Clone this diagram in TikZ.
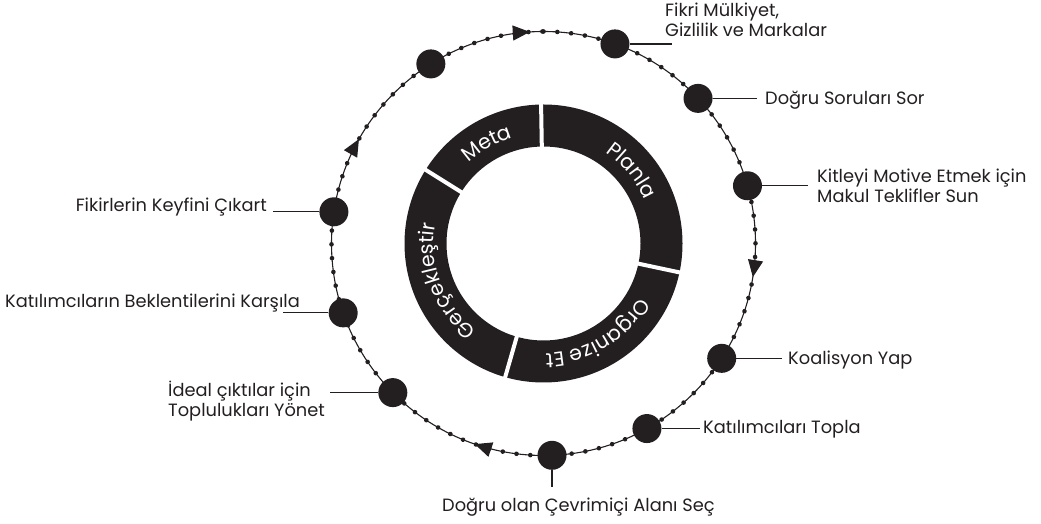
\documentclass[tikz,border=0pt]{standalone}
\usepackage{fontspec}
\setmainfont{Poppins}
\usetikzlibrary{decorations.markings,decorations.text,arrows.meta}
\definecolor{ink}{RGB}{35,31,32}
\newcommand\ringfont{\fontsize{20.5}{20.5}\selectfont}
\begin{document}
\begin{tikzpicture}[x=1pt,y=1pt,
  bigdot/.style={circle,fill=ink,minimum size=29pt,inner sep=0pt},
  lbl/.style={inner sep=0pt,font=\fontsize{17.8}{20}\selectfont,text=ink,align=left},
  lead/.style={draw=ink,line width=1.2pt},
  ringtext/.style={decorate,decoration={text along path,text align=center,
    text color=white,text={|\ringfont|#1}}},
]
\useasboundingbox (0,0) rectangle (1041,524);
\coordinate (O) at (543.5,280.5);

\begin{scope}[shift={(O)}]
  % dark ring split into four segments
  \fill[ink,even odd rule] (0,0) circle[radius=139pt] (0,0) circle[radius=97pt];
  \foreach \a in {91,-12,-106,148}
    \draw[white,line width=4pt] (\a:94pt) -- (\a:142pt);
  \path[ringtext=Meta] (148:110pt) arc[start angle=148,end angle=91,radius=110pt];
  \path[ringtext=Planla] (91:110pt) arc[start angle=91,end angle=-12,radius=110pt];
  \path[ringtext=Organize Et] (-12:110pt) arc[start angle=-12,end angle=-106,radius=110pt];
  \path[ringtext=Gerçekleştir] (254:110pt) arc[start angle=254,end angle=148,radius=110pt];

  % beaded cycle, running clockwise, with direction marks
  \draw[ink,line width=1.1pt,
    postaction={decorate,decoration={markings,
      mark=between positions 0 and 1 step 0.0104 with {\fill[ink] (0,0) circle[radius=2.3pt];}}},
    postaction={decorate,decoration={markings,
      mark=at position 0.2753 with {\arrow{Triangle[length=17pt,width=15pt]}},
      mark=at position 0.5525 with {\arrow{Triangle[length=17pt,width=15pt]}},
      mark=at position 0.8319 with {\arrow{Triangle[length=17pt,width=15pt]}},
      mark=at position 0.9897 with {\arrow{Triangle[length=17pt,width=15pt]}}}}]
    (90:212pt) arc[start angle=90,end angle=-270,radius=212pt];

  \node[bigdot] (dA) at (122.1:212pt) {};
  \node[bigdot] (dB) at (70.3:212pt) {};
  \node[bigdot] (dC) at (43.2:212pt) {};
  \node[bigdot] (dD) at (15.8:212pt) {};
  \node[bigdot] (dE) at (-32.8:212pt) {};
  \node[bigdot] (dF) at (-60.8:212pt) {};
  \node[bigdot] (dG) at (-87.7:212pt) {};
  \node[bigdot] (dH) at (224.7:212pt) {};
  \node[bigdot] (dI) at (199.1:212pt) {};
  \node[bigdot] (dJ) at (171.4:212pt) {};
\end{scope}

% labels (base anchor of a two-line label sits on its last line)
\node[lbl,anchor=base west] (tB) at (665,487) {Fikri Mülkiyet,\\Gizlilik ve Markalar};
\node[lbl,anchor=base west] (tC) at (765,419) {Doğru Soruları Sor};
\node[lbl,anchor=base west] (tD) at (817,321) {Kitleyi Motive Etmek için\\Makul Teklifler Sun};
\node[lbl,anchor=base west] (tE) at (788,159) {Koalisyon Yap};
\node[lbl,anchor=base west] (tF) at (703,90) {Katılımcıları Topla};
\node[lbl,anchor=base west] (tG) at (442,12) {Doğru olan Çevrimiçi Alanı Seç};
\node[lbl,anchor=base west] (tH) at (168,107) {İdeal çıktılar için\\Toplulukları Yönet};
\node[lbl,anchor=base east] (tI) at (300,216) {Katılımcıların Beklentilerini Karşıla};
\node[lbl,anchor=base east] (tJ) at (267,312) {Fikirlerin Keyfini Çıkart};

% leader lines
\coordinate (lB) at (672,481);
\coordinate (lC) at (757,426);
\coordinate (lD) at (808,339);
\coordinate (lE) at (782,166);
\coordinate (lF) at (700,96);
\coordinate (lG) at (552,37);
\coordinate (lH) at (330,131);
\coordinate (lI) at (283,211);
\coordinate (lJ) at (273,313);
\draw[lead] (dB) -- (dB -| lB);
\draw[lead] (dC) -- (dC -| lC);
\draw[lead] (dD) -- (dD -| lD);
\draw[lead] (dE) -- (dE -| lE);
\draw[lead] (dF) -- (dF -| lF);
\draw[lead] (dG) -- (dG |- lG);
\draw[lead] (dH) -- (dH -| lH);
\draw[lead] (dI) -- (dI -| lI);
\draw[lead] (dJ) -- (dJ -| lJ);
\end{tikzpicture}
\end{document}
